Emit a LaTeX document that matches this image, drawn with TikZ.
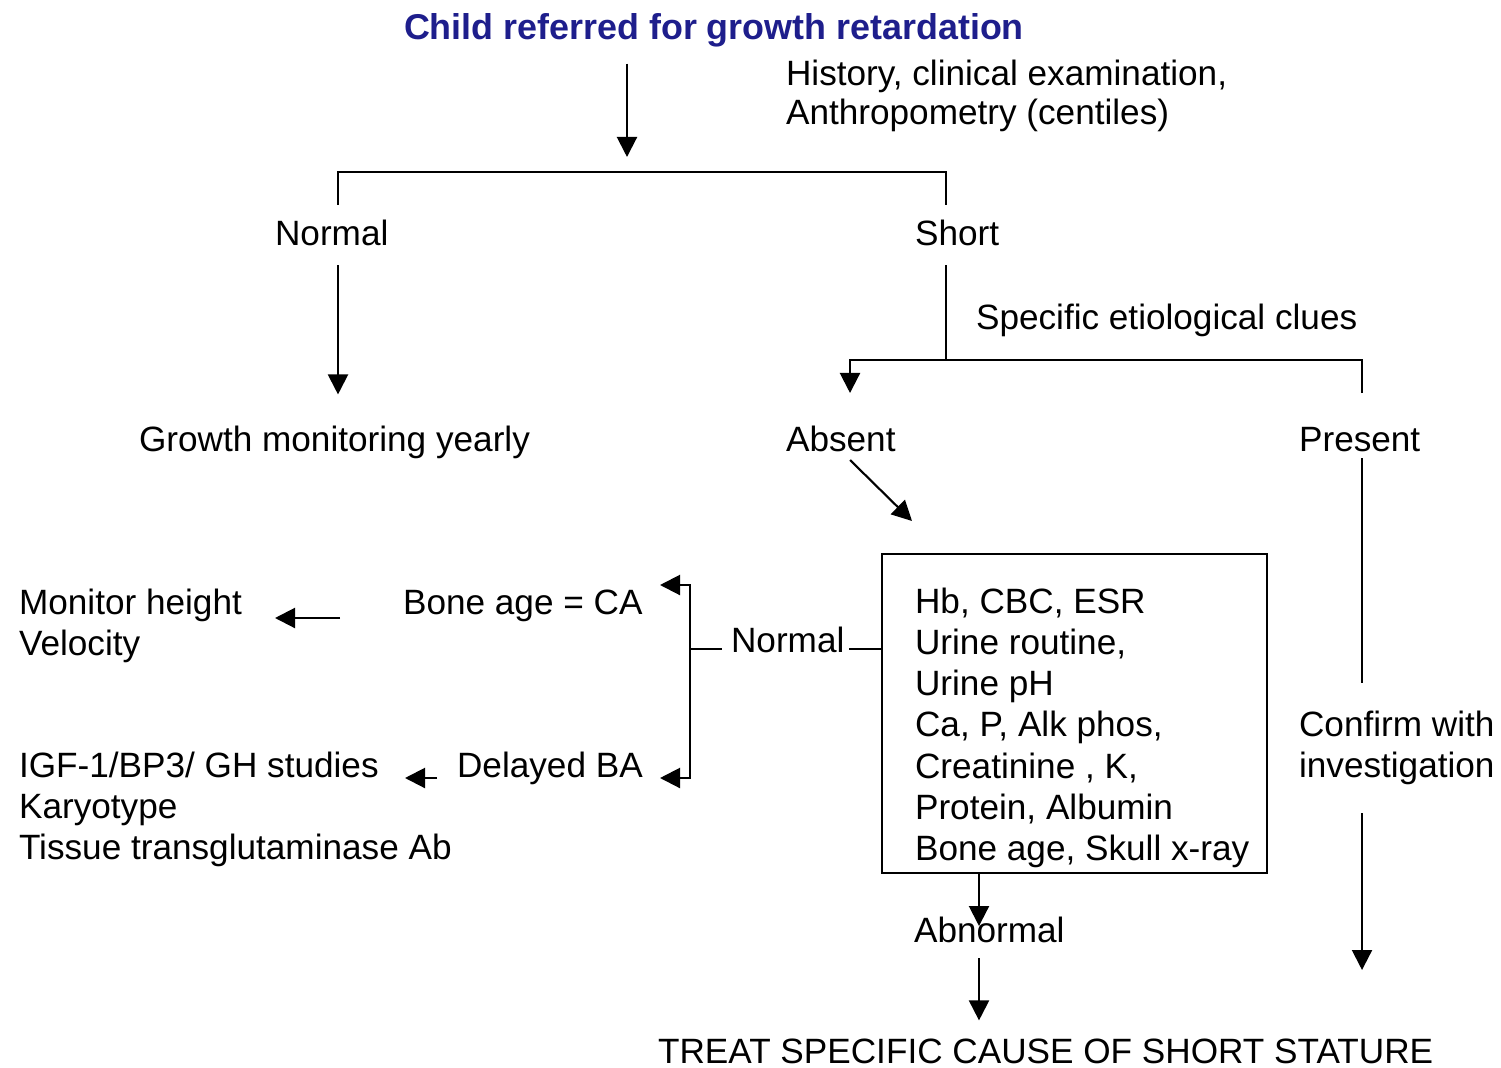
\documentclass[tikz,border=0pt]{standalone}
\usepackage{fontspec}
\setmainfont{Liberation Sans}
\usetikzlibrary{arrows.meta}
\definecolor{titleblue}{RGB}{30,30,140}
\tikzset{
  txt/.style={inner sep=0pt, anchor=base west, font=\fontsize{10}{11.7}\selectfont},
  block/.style={txt, anchor=north west, align=left},
  head/.style={txt, font=\fontsize{10.2}{12}\selectfont\bfseries, text=titleblue},
  arr/.style={-{Triangle[length=2mm,width=2mm]}},
}
\begin{document}
\begin{tikzpicture}[x=0.01cm, y=-0.01cm, line width=0.6pt]
  \useasboundingbox (0,0) rectangle (1501,1067);

  \node[head] (title) at (403,40) {Child referred for growth retardation};
  \node[block, font=\fontsize{10}{11}\selectfont] (history) at (785,59) {History, clinical examination,\\Anthropometry (centiles)};

  \node[txt] (normal) at (274,246) {Normal};
  \node[txt] (short) at (914,246) {Short};
  \node[txt] (growth) at (138,451) {Growth monitoring yearly};
  \node[txt] (clues) at (975,329) {Specific etiological clues};
  \node[txt] (absent) at (785,451) {Absent};
  \node[txt] (present) at (1298,451) {Present};

  \node[draw, minimum width=3.85cm, minimum height=3.19cm, inner sep=0pt] (tests) at (1074.5,713.5) {};
  \node[block] (testlist) at (914,587) {Hb, CBC, ESR\\Urine routine,\\Urine pH\\Ca, P, Alk phos,\\Creatinine , K,\\Protein, Albumin\\Bone age, Skull x-ray};
  \node[block] (confirm) at (1298,710) {Confirm with\\investigation};
  \node[txt] (abnormal) at (913,942) {Abnormal};
  \node[txt] (treat) at (657,1063) {TREAT SPECIFIC CAUSE OF SHORT STATURE};

  \node[txt] (normalba) at (730,652) {Normal};
  \node[txt] (boneca) at (402,614) {Bone age = CA};
  \node[txt] (delayed) at (456,777) {Delayed BA};
  \node[block] (monitor) at (18,588) {Monitor height\\Velocity};
  \node[block] (igf) at (18,751) {IGF-1/BP3/ GH studies\\Karyotype\\Tissue transglutaminase Ab};

  \coordinate (fork) at (627,172);
  \coordinate (lft) at (338,172);
  \coordinate (rgt) at (946,172);
  \coordinate (clue) at (946,360);
  \coordinate (ab) at (850,360);
  \coordinate (pr) at (1362,360);
  \coordinate (prstub) at (1362,393);
  \coordinate (dstart) at (850,460);
  \coordinate (dend) at (912,521);
  \coordinate (jn) at (690,649);
  \coordinate (jtop) at (690,585);
  \coordinate (jbot) at (690,778);
  \coordinate (mstart) at (340,618);
  \coordinate (mend) at (275,618);
  \coordinate (istart) at (437,778);
  \coordinate (iend) at (405,778);
  \coordinate (confend) at (1362,970);

  \draw[arr, shorten <=1.5mm, shorten >=1.5mm] (title.south -| fork) -- (fork);
  \draw (lft) ++(0,33) -- (lft) -- (rgt) -- ++(0,33);
  \draw[arr, shorten <=1.8mm, shorten >=3mm] (normal.south -| lft) -- (growth.north -| lft);
  \draw[shorten <=1.8mm] (short.south -| rgt) -- (clue);
  \draw[arr] (prstub) -- (pr) -- (ab) -- ++(0,33);
  \draw[arr] (dstart) -- (dend);
  \draw[shorten <=0.6mm, shorten >=2.7mm] (present.south -| pr) -- (confirm.north -| pr);
  \draw[arr, shorten <=2.7mm] (confirm.south -| pr) -- (confend);

  \draw[arr] (tests.south -| 979,0) -- (979,926);
  \draw[arr, shorten <=1.5mm, shorten >=1.7mm] (abnormal.south -| 979,0) -- (treat.north -| 979,0);

  \draw (tests.west |- jn) -- ++(-32,0);
  \draw (jn) -- ++(32,0);
  \draw[arr] (jn) -- (jtop) -- ++(-30,0);
  \draw[arr] (jn) -- (jbot) -- ++(-30,0);
  \draw[arr] (mstart) -- (mend);
  \draw[arr] (istart) -- (iend);
\end{tikzpicture}
\end{document}
